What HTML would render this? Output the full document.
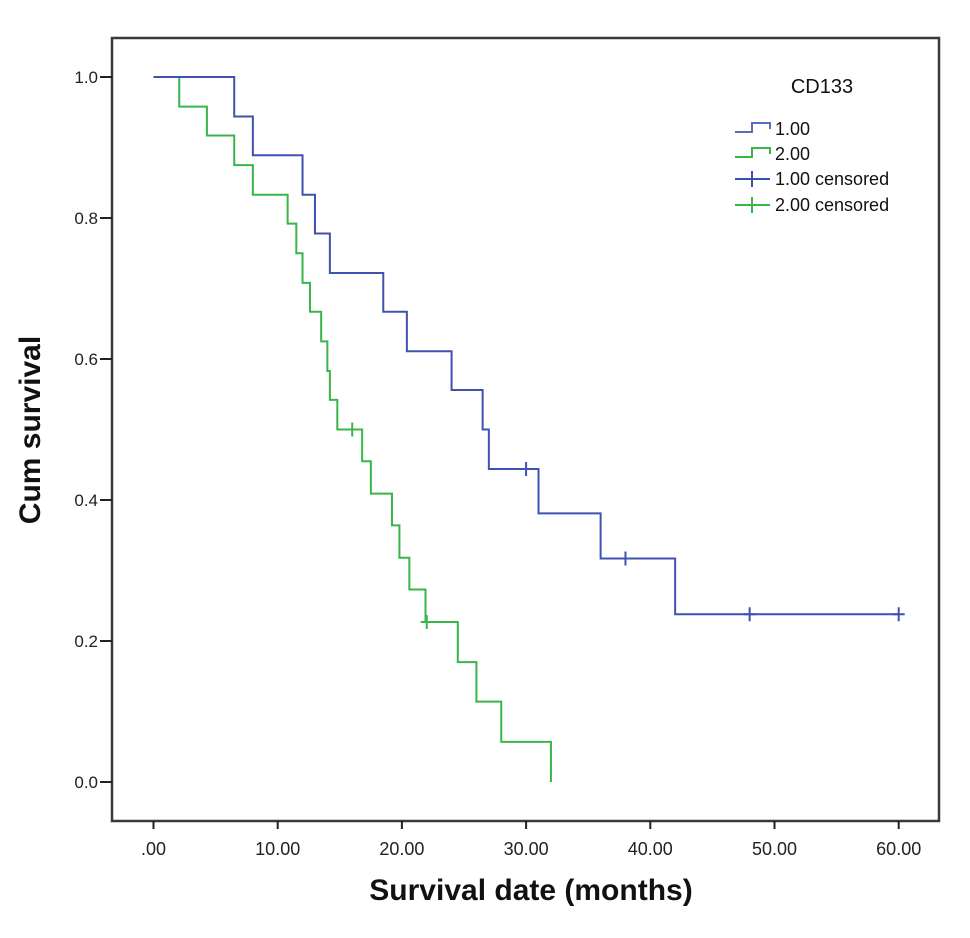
<!DOCTYPE html>
<html><head><meta charset="utf-8"><style>
html,body{margin:0;padding:0;background:#fff;}
svg{display:block;font-family:"Liberation Sans",Arial,sans-serif;}
</style></head><body>
<svg id="chart" width="970" height="938" viewBox="0 0 970 938">
<rect x="112" y="38" width="827" height="783" fill="#fff" stroke="#3a3a3a" stroke-width="2.5"/>
<g id="axes"></g>
<g id="series"></g>
<text x="40" y="430" transform="rotate(-90 40 430)" text-anchor="middle" font-size="30" font-weight="bold" fill="#111">Cum survival</text>
<text x="531" y="900" text-anchor="middle" font-size="30" font-weight="bold" fill="#111">Survival date (months)</text>
<g>
<text x="822" y="93" text-anchor="middle" font-size="20" fill="#111">CD133</text>
<g>
<path d="M735 132 H752 V123 H770 V129" fill="none" stroke="#5b6db8" stroke-width="2"/>
<text x="775" y="135" font-size="18" fill="#111">1.00</text></g>
<g>
<path d="M735 157 H752 V148 H770 V154" fill="none" stroke="#3ab54a" stroke-width="2"/>
<text x="775" y="160" font-size="18" fill="#111">2.00</text></g>
<g>
<path d="M735 179 H770 M752 171 V187" fill="none" stroke="#3a4fb0" stroke-width="2"/>
<text x="775" y="185" font-size="18" fill="#111">1.00 censored</text></g>
<g>
<path d="M735 205 H770 M752 197 V213" fill="none" stroke="#3ab54a" stroke-width="2"/>
<text x="775" y="211" font-size="18" fill="#111">2.00 censored</text></g>
</g>
</svg>
<script>
const xTicks = [0,10,20,30,40,50,60];
const xTickLabels = [".00","10.00","20.00","30.00","40.00","50.00","60.00"];
const yTicks = [0,0.2,0.4,0.6,0.8,1.0];
const yTickLabels = ["0.0","0.2","0.4","0.6","0.8","1.0"];
const g1Times = [0,6.5,8.0,12.0,13.0,14.2,18.5,20.4,24.0,26.5,27.0,31.0,36.0,42.0];
const g1Surv  = [1,0.944,0.889,0.833,0.778,0.722,0.667,0.611,0.556,0.5,0.444,0.381,0.317,0.238];
const g1End = 60;
const g1CensTimes = [30,38,48,60];
const g2Times = [0,2.07,4.3,6.5,8.0,10.8,11.5,12.0,12.6,13.5,14.0,14.2,14.8,16.8,17.5,19.2,19.8,20.6,21.9,24.5,26.0,28.0,32.0];
const g2Surv  = [1,0.958,0.917,0.875,0.833,0.792,0.75,0.708,0.667,0.625,0.583,0.542,0.5,0.455,0.409,0.364,0.318,0.273,0.227,0.170,0.114,0.057,0];
const g2End = 32;
const g2CensTimes = [16.0,22.0];

const xs = t => 153.5 + t*12.42;
const ys = v => 782 - v*705;
const NS="http://www.w3.org/2000/svg";
const axes=document.getElementById('axes');
const series=document.getElementById('series');
function mk(tag,attrs,parent){const e=document.createElementNS(NS,tag);for(const k in attrs)e.setAttribute(k,attrs[k]);parent.appendChild(e);return e;}
xTicks.forEach((t,i)=>{
  const l=mk('line',{x1:xs(t),x2:xs(t),y1:821,y2:829,stroke:'#222','stroke-width':2},axes);
  
  
  const tx=mk('text',{x:xs(t),y:855,'text-anchor':'middle','font-size':18,fill:'#222'},axes);
  tx.textContent=xTickLabels[i];
  
  
});
yTicks.forEach((v,i)=>{
  const l=mk('line',{x1:100,x2:112,y1:ys(v),y2:ys(v),stroke:'#222','stroke-width':2},axes);
  
  
  const tx=mk('text',{x:98,y:ys(v)+6,'text-anchor':'end','font-size':17,fill:'#222'},axes);
  tx.textContent=yTickLabels[i];
  
  
});
function survAt(times,surv,t){let s=surv[0];for(let i=0;i<times.length;i++){if(times[i]<=t)s=surv[i];}return s;}
function drawCurve(times,surv,end,cens,color,name){
  let d='M'+xs(times[0])+' '+ys(surv[0]);
  for(let i=1;i<times.length;i++){d+=' H'+xs(times[i])+' V'+ys(surv[i]);}
  if(end>times[times.length-1]) d+=' H'+xs(end);
  const p=mk('path',{d:d,fill:'none',stroke:color,'stroke-width':2},series);
  
  
  cens.forEach(t=>{
    const v=survAt(times,surv,t);
    const c=mk('path',{d:'M'+(xs(t)-6)+' '+ys(v)+' H'+(xs(t)+6)+' M'+xs(t)+' '+(ys(v)-7)+' V'+(ys(v)+7),stroke:color,'stroke-width':2,fill:'none'},series);
    
    
  });
}
drawCurve(g2Times,g2Surv,g2End,g2CensTimes,'#3ab54a','group-2');
drawCurve(g1Times,g1Surv,g1End,g1CensTimes,'#3f52b0','group-1');
</script>
</body></html>
